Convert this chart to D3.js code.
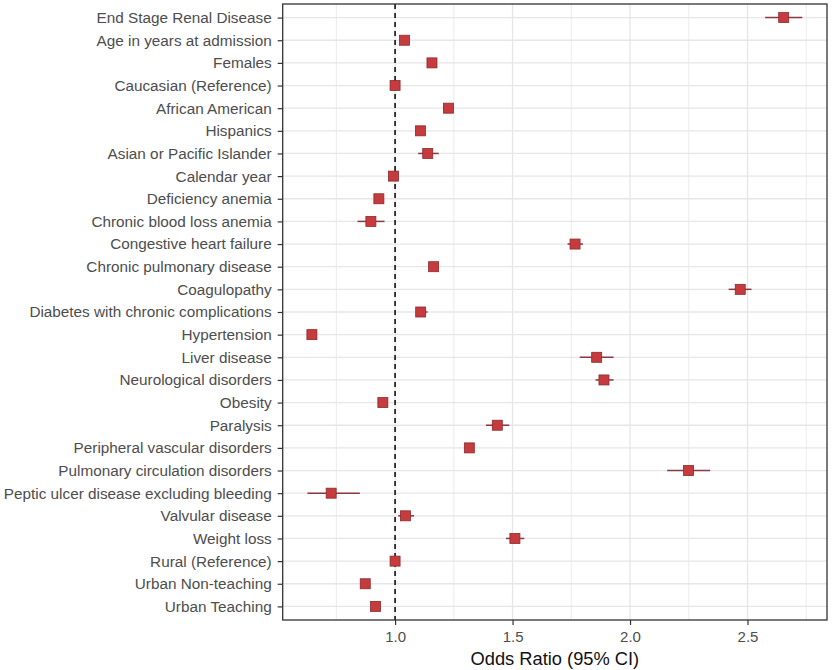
<!DOCTYPE html>
<html>
<head>
<meta charset="utf-8">
<script src="https://cdn.jsdelivr.net/npm/d3@7"></script>
<style>
  body { margin: 0; background: #fff; }
  svg { display: block; font-family: "Liberation Sans", Arial, sans-serif; }
</style>
</head>
<body>
<svg id="chart" width="833" height="670"></svg>
<script>
const categories = [
  "End Stage Renal Disease", "Age in years at admission", "Females", "Caucasian (Reference)",
  "African American", "Hispanics", "Asian or Pacific Islander", "Calendar year",
  "Deficiency anemia", "Chronic blood loss anemia", "Congestive heart failure",
  "Chronic pulmonary disease", "Coagulopathy", "Diabetes with chronic complications",
  "Hypertension", "Liver disease", "Neurological disorders", "Obesity", "Paralysis",
  "Peripheral vascular disorders", "Pulmonary circulation disorders",
  "Peptic ulcer disease excluding bleeding", "Valvular disease", "Weight loss",
  "Rural (Reference)", "Urban Non-teaching", "Urban Teaching"
];
const oddsRatio = [2.654, 1.040, 1.157, 1.000, 1.227, 1.108, 1.139, 0.993, 0.931, 0.897, 1.766,
  1.164, 2.469, 1.109, 0.646, 1.858, 1.889, 0.948, 1.435, 1.316, 2.249, 0.728, 1.044, 1.510,
  1.000, 0.873, 0.917];
const ciLower = [2.575, 1.035, 1.150, 1.000, 1.204, 1.088, 1.098, 0.988, 0.922, 0.840, 1.734,
  1.157, 2.420, 1.092, 0.642, 1.786, 1.853, 0.940, 1.387, 1.296, 2.158, 0.627, 1.013, 1.472,
  1.000, 0.866, 0.910];
const ciUpper = [2.733, 1.045, 1.164, 1.000, 1.248, 1.129, 1.186, 0.998, 0.940, 0.955, 1.800,
  1.171, 2.517, 1.138, 0.650, 1.930, 1.930, 0.956, 1.486, 1.336, 2.341, 0.850, 1.081, 1.550,
  1.000, 0.880, 0.924];
const majorTicks = [1.0, 1.5, 2.0, 2.5];
const minorTicks = [0.75, 1.25, 1.75, 2.25, 2.75];
const referenceValue = 1;
const xTitle = "Odds Ratio (95% CI)";

const data = categories.map((c, i) => ({ cat: c, or: oddsRatio[i], lo: ciLower[i], hi: ciUpper[i] }));

const svg = d3.select("#chart");
const pL = 282.7, pR = 827, pT = 4, pB = 620;

const lo = d3.min(ciLower), hi = d3.max(ciUpper);
const pad = (hi - lo) * 0.05;
const x = d3.scaleLinear().domain([lo - pad, hi + pad]).range([pL, pR]);
const y = d3.scalePoint().domain(categories).range([pT, pB]).padding(0.6);

const g = svg.append("g");

g.append("rect").attr("x", pL).attr("y", pT).attr("width", pR - pL).attr("height", pB - pT)
  .attr("fill", "#fff");

g.selectAll(".minor").data(minorTicks.filter(v => v >= x.domain()[0] && v <= x.domain()[1])).enter()
  .append("line").attr("x1", d => x(d)).attr("x2", d => x(d)).attr("y1", pT).attr("y2", pB)
  .attr("stroke", "#ebebeb").attr("stroke-width", 1);
g.selectAll(".majorv").data(majorTicks).enter()
  .append("line").attr("x1", d => x(d)).attr("x2", d => x(d)).attr("y1", pT).attr("y2", pB)
  .attr("stroke", "#e6e6e6").attr("stroke-width", 1.3);
g.selectAll(".majorh").data(categories).enter()
  .append("line").attr("x1", pL).attr("x2", pR).attr("y1", d => y(d)).attr("y2", d => y(d))
  .attr("stroke", "#e6e6e6").attr("stroke-width", 1.3);

g.append("line").attr("x1", x(referenceValue)).attr("x2", x(referenceValue)).attr("y1", pT).attr("y2", pB)
  .attr("stroke", "#111").attr("stroke-width", 1.6).attr("stroke-dasharray", "5,4");

g.selectAll(".ci").data(data).enter()
  .append("line").attr("x1", d => x(d.lo)).attr("x2", d => x(d.hi))
  .attr("y1", d => y(d.cat)).attr("y2", d => y(d.cat))
  .attr("stroke", "#8a3a44").attr("stroke-width", 1.5);

const s = 10;
g.selectAll(".pt").data(data).enter()
  .append("rect").attr("x", d => x(d.or) - s / 2).attr("y", d => y(d.cat) - s / 2)
  .attr("width", s).attr("height", s)
  .attr("fill", "#c63b3d").attr("stroke", "#8c2a2c").attr("stroke-width", 0.8);

g.append("rect").attr("x", pL).attr("y", pT).attr("width", pR - pL).attr("height", pB - pT)
  .attr("fill", "none").attr("stroke", "#333").attr("stroke-width", 1.3);

const xAxis = d3.axisBottom(x).tickValues(majorTicks).tickFormat(d3.format(".1f")).tickSize(5).tickPadding(6);
const xg = svg.append("g").attr("transform", `translate(0,${pB})`).call(xAxis);
xg.select(".domain").remove();
xg.selectAll(".tick line").attr("stroke", "#333").attr("stroke-width", 1.2);
xg.selectAll(".tick text").attr("fill", "#4d4d4d").style("font-size", "15px");

const yAxis = d3.axisLeft(y).tickSize(5).tickPadding(6);
const yg = svg.append("g").attr("transform", `translate(${pL},0)`).call(yAxis);
yg.select(".domain").remove();
yg.selectAll(".tick line").attr("stroke", "#333").attr("stroke-width", 1.2);
yg.selectAll(".tick text").attr("fill", "#4d4d4d").style("font-size", "15.3px");

svg.append("text").attr("x", (pL + pR) / 2).attr("y", 665).attr("text-anchor", "middle")
  .style("font-size", "18.3px").attr("fill", "#111").text(xTitle);
</script>
</body>
</html>
